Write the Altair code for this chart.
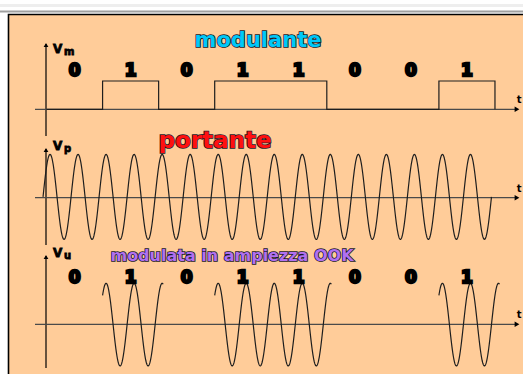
import altair as alt
import numpy as np
import pandas as pd

# ---- signal definition -------------------------------------------------
bits = [0, 1, 0, 1, 1, 0, 0, 1]          # transmitted bit sequence
cycles_per_bit = 2                        # carrier cycles in one bit period
carrier_phase = 0.125                     # carrier phase (in cycles) at t = 0
carrier_span = [-0.0625, 7.9375]          # time span of the drawn carrier (bit periods)
burst_tail = 0.08                         # the drawn bursts run slightly past the bit edge
titles = ["modulante", "portante", "modulata in ampiezza OOK"]
axis_names = [("V", "m"), ("V", "p"), ("V", "u")]

W, H = 523, 374
FONT = "DejaVu Sans"

# ---- tables -------------------------------------------------------------
# square-wave vertices of the modulating signal (returns to 0 after the last bit)
sq_rows = []
i = 0
for k, b in enumerate(bits):
    sq_rows.append({"t": k, "v": b, "i": i}); i += 1
    sq_rows.append({"t": k + 1, "v": b, "i": i}); i += 1
sq_rows.append({"t": len(bits), "v": 0, "i": i})
square = pd.DataFrame(sq_rows)


def carrier(t):
    return np.sin(2 * np.pi * (cycles_per_bit * t + carrier_phase))


tc = np.linspace(carrier_span[0], carrier_span[1], 1600)
carrier_df = pd.DataFrame({"t": tc, "v": carrier(tc)})

# OOK: the carrier is only present during runs of "1"
runs = []
k = 0
while k < len(bits):
    if bits[k] == 1:
        s = k
        while k < len(bits) and bits[k] == 1:
            k += 1
        runs.append((s, k))
    else:
        k += 1
ook_parts = []
for n, (a, b) in enumerate(runs):
    tt = np.linspace(a, b + burst_tail, int(220 * (b - a + burst_tail)))
    ook_parts.append(pd.DataFrame({"t": tt, "v": carrier(tt), "burst": n}))
ook_df = pd.concat(ook_parts, ignore_index=True)

labels_df = pd.DataFrame({"t": [k + 0.5 for k in range(len(bits))],
                          "txt": [str(b) for b in bits]})

# ---- scales -------------------------------------------------------------
x_scale = alt.Scale(domain=[-0.83, 8.5], nice=False, zero=False)


def y_scale(base_px, unit_px):
    # baseline of the panel at base_px, one signal unit = unit_px pixels
    return alt.Scale(domain=[-(H - base_px) / unit_px, base_px / unit_px],
                     nice=False, zero=False)


one = alt.Data(values=[{}])
INK = "#1e1e1e"

# ---- page decoration ----------------------------------------------------
band = alt.Chart(one).mark_rect(color="#eeeeee").encode(
    x=alt.value(0), x2=alt.value(W), y=alt.value(4), y2=alt.value(7))
rule_gray = alt.Chart(one).mark_rect(color="#a0a0a0").encode(
    x=alt.value(0), x2=alt.value(W), y=alt.value(10.5), y2=alt.value(12.5))
panel = alt.Chart(one).mark_rect(fill="#ffcc99", stroke="#000000", strokeWidth=1.6).encode(
    x=alt.value(8.5), x2=alt.value(W + 20), y=alt.value(14.5), y2=alt.value(H + 20))

# ---- hand-drawn axes ----------------------------------------------------
axes = []
panels_px = [  # (baseline, vertical axis top, vertical axis bottom)
    (109.3, 44, 136),
    (197.7, 149, 245),
    (324.3, 256, 368),
]
for base, top, bottom in panels_px:
    axes.append(alt.Chart(one).mark_rule(color="#000000", strokeWidth=1.2).encode(
        x=alt.value(46), y=alt.value(top), y2=alt.value(bottom)))
    axes.append(alt.Chart(one).mark_rule(color="#4a4a4a", strokeWidth=1.2).encode(
        x=alt.value(35), x2=alt.value(515), y=alt.value(base)))
    axes.append(alt.Chart(one).mark_point(shape="triangle-up", filled=True, size=22,
                                          color="#000000", opacity=1).encode(
        x=alt.value(46), y=alt.value(top + 1)))
    axes.append(alt.Chart(one).mark_point(shape="triangle-right", filled=True, size=30,
                                          color="#000000", opacity=1).encode(
        x=alt.value(517), y=alt.value(base)))
    axes.append(alt.Chart(one).mark_text(text="t", font=FONT, fontWeight="bold", fontSize=10,
                                         align="right", baseline="bottom", color="#000000").encode(
        x=alt.value(521.5), y=alt.value(base - 4)))

# axis names V with subscript
name_pos = [(53, 53, 48), (53, 150, 144), (53, 257, 251)]
for (big, sub), (x0, yb, ytop) in zip(axis_names, name_pos):
    axes.append(alt.Chart(one).mark_text(text=big, font=FONT, fontWeight="bold", fontSize=12,
                                         align="left", baseline="alphabetic", color="#000000",
                                         stroke="#000000", strokeWidth=0.8).encode(
        x=alt.value(x0), y=alt.value(yb)))
    axes.append(alt.Chart(one).mark_text(text=sub, font=FONT, fontWeight="bold", fontSize=10,
                                         align="left", baseline="alphabetic", color="#000000",
                                         stroke="#000000", strokeWidth=0.8).encode(
        x=alt.value(x0 + 11), y=alt.value(yb + 2)))

# ---- titles with dark outline ------------------------------------------
title_specs = [  # (text, colour, x centre, baseline y, size)
    (titles[0], "#00c8f8", 258, 47, 21),
    (titles[1], "#ff1010", 215, 148, 23),
    (titles[2], "#b070f0", 232, 261, 16),
]
title_layers = []
for txt, col, xc, yb, fs in title_specs:
    common = dict(text=txt, font=FONT, fontWeight="bold", fontSize=fs,
                  align="center", baseline="alphabetic")
    title_layers.append(alt.Chart(one).mark_text(**common, fill="#1a1a28", stroke="#1a1a28",
                                                 strokeWidth=1.6).encode(
        x=alt.value(xc), y=alt.value(yb)))
    title_layers.append(alt.Chart(one).mark_text(**common, fill=col).encode(
        x=alt.value(xc), y=alt.value(yb)))

# ---- signals ------------------------------------------------------------
mod_line = alt.Chart(square).mark_line(color=INK, strokeWidth=1.2).encode(
    x=alt.X("t:Q", scale=x_scale, axis=None),
    y=alt.Y("v:Q", scale=y_scale(109.3, 28.3), axis=None),
    order="i:Q")

car_line = alt.Chart(carrier_df).mark_line(color=INK, strokeWidth=1.2).encode(
    x=alt.X("t:Q", scale=x_scale, axis=None),
    y=alt.Y("v:Q", scale=y_scale(196.9, 42.5), axis=None))

ook_line = alt.Chart(ook_df).mark_line(color=INK, strokeWidth=1.2).encode(
    x=alt.X("t:Q", scale=x_scale, axis=None),
    y=alt.Y("v:Q", scale=y_scale(324.6, 41.3), axis=None),
    detail="burst:N")

bit_labels = []
for ypx in (71, 278):
    bit_labels.append(alt.Chart(labels_df).mark_text(
        font=FONT, fontWeight="bold", fontSize=17, baseline="middle", align="center",
        color="#000000", stroke="#000000", strokeWidth=2.4).encode(
        x=alt.X("t:Q", scale=x_scale, axis=None),
        y=alt.value(ypx),
        text="txt:N"))

chart = alt.layer(
    band, rule_gray, panel, *axes, mod_line, car_line, ook_line, *bit_labels, *title_layers
).resolve_scale(y="independent").properties(
    width=W, height=H, autosize=alt.AutoSizeParams(type="none"), padding=0,
    background="#ffffff"
).configure_view(stroke=None)

chart.save("out.html", embed_options={"renderer": "svg", "actions": False})
